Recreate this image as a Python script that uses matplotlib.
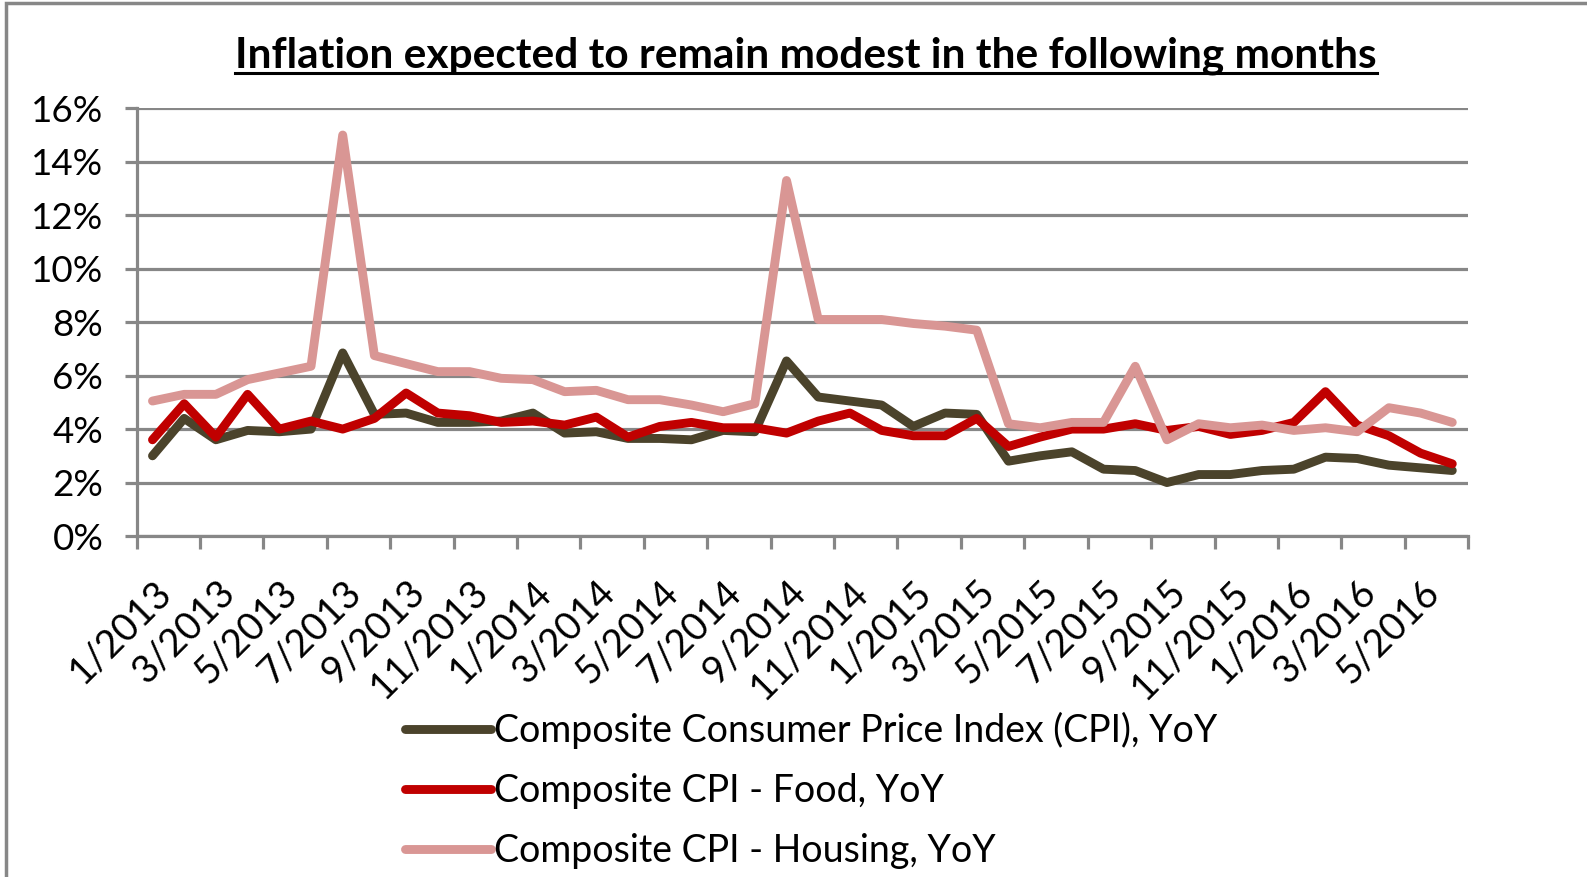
import numpy as np
import matplotlib.pyplot as plt
from matplotlib.lines import Line2D
from matplotlib.patches import Rectangle

# monthly YoY inflation, 1/2013 .. 6/2016
months = ["%d/%d" % (m, y) for y in (2013, 2014, 2015, 2016) for m in range(1, 13)][:42]

cpi = [3.0, 4.4, 3.6, 3.95, 3.9, 4.0, 6.85, 4.55, 4.6, 4.25, 4.25, 4.3,
       4.6, 3.85, 3.9, 3.65, 3.65, 3.6, 3.95, 3.9, 6.55, 5.2, 5.05, 4.9,
       4.1, 4.6, 4.55, 2.8, 3.0, 3.15, 2.5, 2.45, 2.0, 2.3, 2.3, 2.45,
       2.5, 2.95, 2.9, 2.65, 2.55, 2.45]
food = [3.6, 4.95, 3.7, 5.3, 4.0, 4.3, 4.0, 4.4, 5.35, 4.6, 4.5, 4.25,
        4.3, 4.15, 4.45, 3.7, 4.1, 4.25, 4.05, 4.05, 3.85, 4.3, 4.6, 3.95,
        3.75, 3.75, 4.4, 3.35, 3.7, 4.0, 4.0, 4.2, 3.95, 4.1, 3.8, 3.95,
        4.25, 5.4, 4.15, 3.75, 3.1, 2.7]
housing = [5.05, 5.3, 5.3, 5.85, 6.1, 6.35, 15.0, 6.75, 6.45, 6.15, 6.15, 5.9,
           5.85, 5.4, 5.45, 5.1, 5.1, 4.9, 4.65, 4.95, 13.3, 8.1, 8.1, 8.1,
           7.95, 7.85, 7.7, 4.2, 4.05, 4.25, 4.25, 6.35, 3.6, 4.2, 4.05, 4.15,
           3.95, 4.05, 3.9, 4.8, 4.6, 4.25]

labels = ["Composite Consumer Price Index (CPI), YoY",
          "Composite CPI - Food, YoY",
          "Composite CPI - Housing, YoY"]
colors = ["#4B432B", "#C00000", "#D99694"]

plt.rcParams['font.family'] = ['Lato', 'DejaVu Sans']

fig = plt.figure(figsize=(15.87, 8.77), dpi=100)
ax = fig.add_axes([0.0861, 0.3888, 0.839, 0.4877])

x = np.arange(len(months))
for vals, c, lab in zip([cpi, food, housing], colors, labels):
    ax.plot(x, vals, color=c, lw=6.4, label=lab, solid_joinstyle='round',
            solid_capstyle='round')

grey = "#878787"
ax.set_xlim(-0.5, len(months) - 0.5)
ax.set_ylim(0, 16)
ax.set_yticks(np.arange(0, 17, 2))
ax.set_yticklabels(["%d%%" % v for v in range(0, 17, 2)], fontsize=26.5)
ax.grid(axis='y', color=grey, lw=2.3)
ax.set_axisbelow(True)

ax.set_xticks(np.arange(0, len(months) + 1, 2) - 0.5)
ax.set_xticklabels([])
ax.set_xticks(x[::2], minor=True)
ax.set_xticklabels(months[::2], minor=True, rotation=45, ha='right',
                   rotation_mode='anchor', fontsize=27.5)
ax.tick_params(axis='x', which='major', length=9, width=2.3, color=grey, direction='out')
ax.tick_params(axis='x', which='minor', length=0, pad=27)
ax.tick_params(axis='y', length=9, width=2.3, color=grey, pad=15)

for s in ['top', 'right']:
    ax.spines[s].set_visible(False)
for s in ['left', 'bottom']:
    ax.spines[s].set_color(grey)
    ax.spines[s].set_linewidth(2.3)

fig.legend(loc='upper left', bbox_to_anchor=(0.2457, 0.205), frameon=False,
           fontsize=27, handlelength=2.3, handletextpad=0.08, labelspacing=0.64,
           borderaxespad=0)

# title with underline
t = fig.text(0.508, 0.9235, "Inflation expected to remain modest in the following months",
             ha='center', va='baseline', fontsize=30.5, fontweight='bold')
fig.canvas.draw()
bb = t.get_window_extent().transformed(fig.transFigure.inverted())
fig.add_artist(Line2D([bb.x0, bb.x1], [0.917, 0.917], color='black', lw=2.2))

# chart frame (only top and left visible)
fig.add_artist(Rectangle((0.004, -0.05), 1.2, 1.047, transform=fig.transFigure,
                         fill=False, edgecolor=grey, lw=2.5))

fig.savefig("out.png", dpi=100)
